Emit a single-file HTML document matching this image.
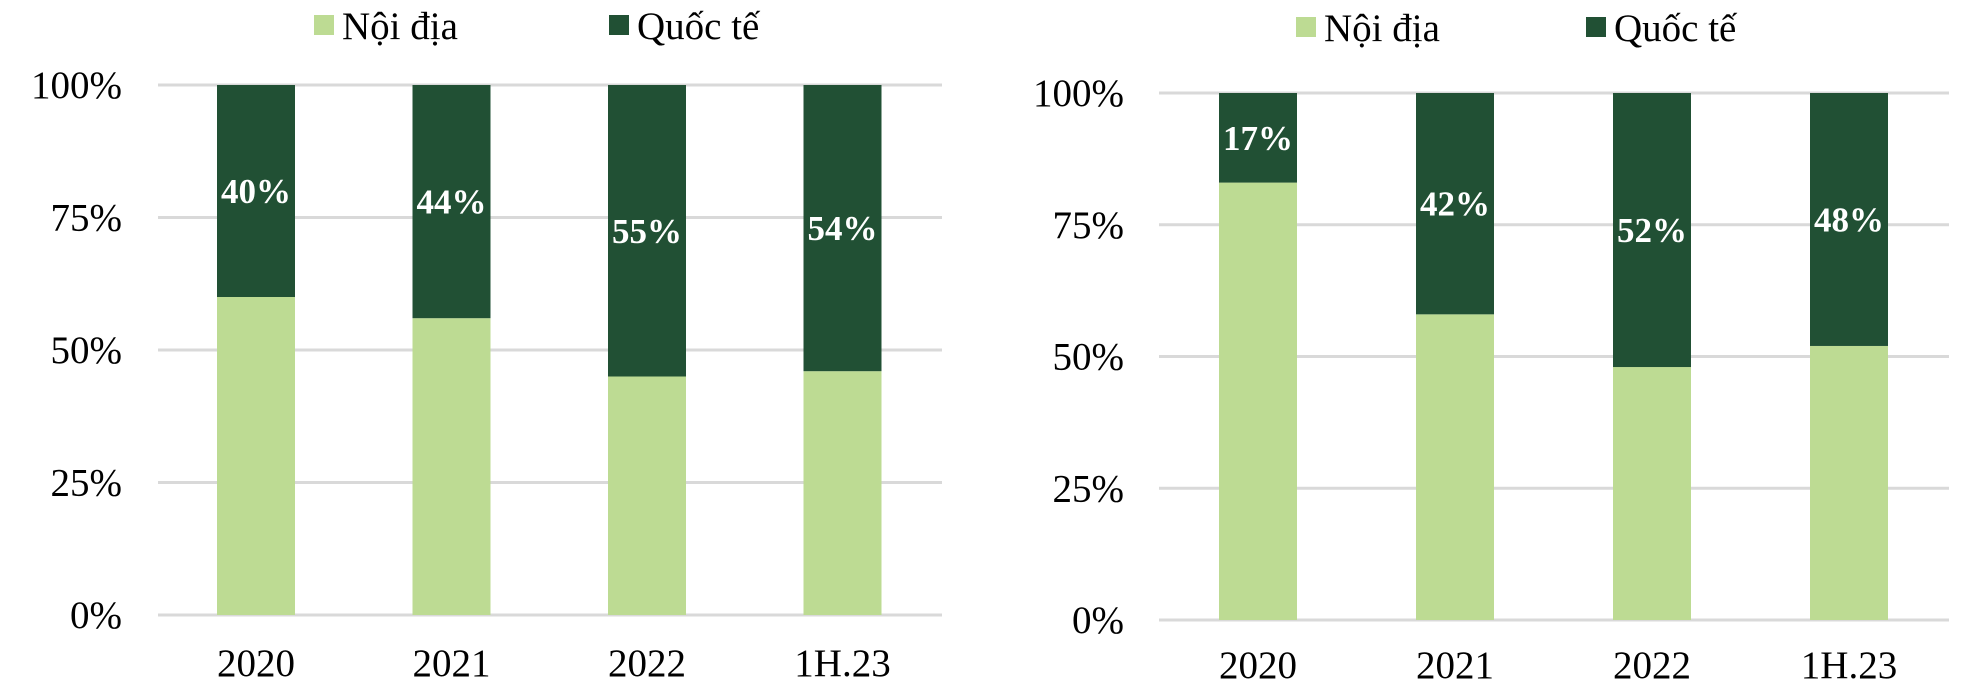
<!DOCTYPE html>
<html><head><meta charset="utf-8">
<style>
html,body{margin:0;padding:0;background:#fff;}
svg{display:block;font-family:"Liberation Serif","Noto Serif CJK SC",serif;}
</style></head>
<body>
<svg id="svg" width="1970" height="698" viewBox="0 0 1970 698" xmlns="http://www.w3.org/2000/svg"></svg>
<script>
const categories = ["2020","2021","2022","1H.23"];
const leftIntl = [40,44,55,54];
const rightIntl = [17,42,52,48];
const tickValues = [0,25,50,75,100];
const tickLabels = ["0%","25%","50%","75%","100%"];
const seriesNames = ["Nội địa","Quốc tế"];

const LIGHT="#bddb93", DARK="#215034", GRID="#d9d9d9";
const NS="http://www.w3.org/2000/svg";
const svg=document.getElementById('svg');
function mk(tag,attrs,parent){const e=document.createElementNS(NS,tag);for(const k in attrs)e.setAttribute(k,attrs[k]);(parent||svg).appendChild(e);return e;}

function drawChart(cfg,intl,prefix){
  const g=mk('g',{});
  
  
  const y=v=>cfg.y0+(cfg.y100-cfg.y0)*v/100;
  const xc=i=>cfg.firstCenter+i*cfg.step;
  tickValues.forEach((t,i)=>{
    const ln=mk('line',{x1:cfg.gx1,x2:cfg.gx2,y1:y(t),y2:y(t),stroke:GRID,'stroke-width':3},g);
    
    
    const tx=mk('text',{x:cfg.tickRight,y:y(t)+13,'text-anchor':'end','font-size':39,fill:'#000'},g);
    tx.textContent=tickLabels[i];
    
    
  });
  categories.forEach((c,i)=>{
    const x=xc(i)-cfg.bw/2;
    const dom=100-intl[i];
    const r1=mk('rect',{x:x,y:y(dom),width:cfg.bw,height:y(0)-y(dom),fill:LIGHT},g);
    
    
    const r2=mk('rect',{x:x,y:y(100),width:cfg.bw,height:y(dom)-y(100),fill:DARK},g);
    
    
    const lb=mk('text',{x:xc(i),y:(y(100)+y(dom))/2+12,'text-anchor':'middle','font-size':35,'font-weight':'bold',fill:'#fff'},g);
    lb.textContent=intl[i]+'%';
    
    
    const cl=mk('text',{x:xc(i),y:cfg.catY,'text-anchor':'middle','font-size':39,fill:'#000'},g);
    cl.textContent=c;
    
    
  });
  [[cfg.leg1,LIGHT,seriesNames[0]],[cfg.leg2,DARK,seriesNames[1]]].forEach((L,k)=>{
    const s=mk('rect',{x:L[0],y:cfg.legY,width:20,height:20,fill:L[1]},g);
    
    
    const t=mk('text',{x:L[0]+28,y:cfg.legY+24,'font-size':39,fill:'#000'},g);
    t.textContent=L[2];
    
    
  });
}
drawChart({gx1:158,gx2:942,y0:615,y100:85,firstCenter:256,step:195.5,bw:78,tickRight:122,catY:676,leg1:314,leg2:609,legY:15},leftIntl,'left');
drawChart({gx1:1159,gx2:1949,y0:620,y100:93,firstCenter:1258,step:197,bw:78,tickRight:1124,catY:678,leg1:1296,leg2:1586,legY:17},rightIntl,'right');
</script>
</body></html>
